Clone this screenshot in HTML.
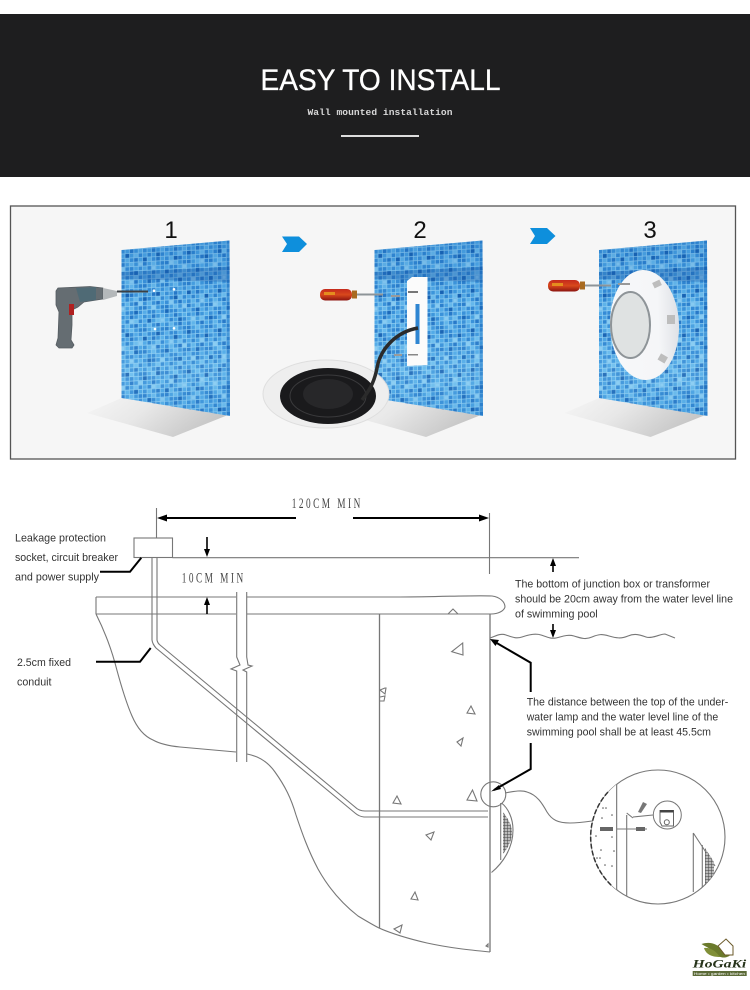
<!DOCTYPE html>
<html><head><meta charset="utf-8"><style>
html,body{margin:0;padding:0;background:#fff}
svg{display:block;filter:blur(.35px)}
.lb{font-family:"Liberation Sans",sans-serif;font-size:10.8px;fill:#333}
.num{font-family:"Liberation Sans",sans-serif;font-size:24px;fill:#111;text-anchor:middle}
.dim{font-family:"Liberation Serif",serif;font-size:15px;fill:#444}
.g{fill:none;stroke:#777;stroke-width:1.1}
.k{fill:none;stroke:#000;stroke-width:2}
</style></head><body>
<svg width="750" height="990" viewBox="0 0 750 990" xmlns="http://www.w3.org/2000/svg">
<defs>
<pattern id="mos" width="22" height="22" patternUnits="userSpaceOnUse" patternTransform="translate(121 250) skewY(-3)">
<rect width="22" height="22" fill="#9ad6f6"/>
<g>
<rect x="0" y="0" width="3.7" height="3.7" fill="#3a92da"/><rect x="4.4" y="0" width="3.7" height="3.7" fill="#4aa3e3"/><rect x="8.8" y="0" width="3.7" height="3.7" fill="#2678c8"/><rect x="13.2" y="0" width="3.7" height="3.7" fill="#3f98dd"/><rect x="17.6" y="0" width="3.7" height="3.7" fill="#5bb2ea"/>
<rect x="0" y="4.4" width="3.7" height="3.7" fill="#52abe8"/><rect x="4.4" y="4.4" width="3.7" height="3.7" fill="#2f86d2"/><rect x="8.8" y="4.4" width="3.7" height="3.7" fill="#4aa3e3"/><rect x="13.2" y="4.4" width="3.7" height="3.7" fill="#70c0ef"/><rect x="17.6" y="4.4" width="3.7" height="3.7" fill="#348bd6"/>
<rect x="0" y="8.8" width="3.7" height="3.7" fill="#3a92da"/><rect x="4.4" y="8.8" width="3.7" height="3.7" fill="#62b7eb"/><rect x="8.8" y="8.8" width="3.7" height="3.7" fill="#3a92da"/><rect x="13.2" y="8.8" width="3.7" height="3.7" fill="#2678c8"/><rect x="17.6" y="8.8" width="3.7" height="3.7" fill="#4ea8e6"/>
<rect x="0" y="13.2" width="3.7" height="3.7" fill="#2b7fcd"/><rect x="4.4" y="13.2" width="3.7" height="3.7" fill="#4aa3e3"/><rect x="8.8" y="13.2" width="3.7" height="3.7" fill="#6abcee"/><rect x="13.2" y="13.2" width="3.7" height="3.7" fill="#3f98dd"/><rect x="17.6" y="13.2" width="3.7" height="3.7" fill="#2f86d2"/>
<rect x="0" y="17.6" width="3.7" height="3.7" fill="#58afe9"/><rect x="4.4" y="17.6" width="3.7" height="3.7" fill="#348bd6"/><rect x="8.8" y="17.6" width="3.7" height="3.7" fill="#348bd6"/><rect x="13.2" y="17.6" width="3.7" height="3.7" fill="#52abe8"/><rect x="17.6" y="17.6" width="3.7" height="3.7" fill="#3a92da"/>
</g>
</pattern>
<pattern id="mos2" width="30.8" height="39.6" patternUnits="userSpaceOnUse" patternTransform="translate(121 250) skewY(-3)">
<rect x="4.4" y="4.4" width="3.7" height="3.7" fill="#165fb0"/><rect x="22" y="8.8" width="3.7" height="3.7" fill="#165fb0"/><rect x="13.2" y="22" width="3.7" height="3.7" fill="#1a67b8"/><rect x="26.4" y="30.8" width="3.7" height="3.7" fill="#1a67b8"/>
<rect x="8.8" y="30.8" width="3.7" height="3.7" fill="#8ed0f4"/><rect x="17.6" y="13.2" width="3.7" height="3.7" fill="#8ed0f4"/><rect x="0" y="17.6" width="3.7" height="3.7" fill="#8ed0f4"/>
</pattern>
<linearGradient id="ov" x1="0" y1="0" x2="0" y2="1">
<stop offset="0" stop-color="#1763b4" stop-opacity=".28"/>
<stop offset=".4" stop-color="#2f86d2" stop-opacity=".06"/>
<stop offset=".75" stop-color="#a6ddf8" stop-opacity=".16"/>
<stop offset="1" stop-color="#1c72c4" stop-opacity=".15"/>
</linearGradient>
<linearGradient id="fl" x1="0" y1="0" x2="1" y2=".35">
<stop offset="0" stop-color="#f6f6f6"/>
<stop offset=".45" stop-color="#e8e8e8"/>
<stop offset="1" stop-color="#c6c6c6"/>
</linearGradient>
<linearGradient id="lamp" x1="0" y1="0" x2="1" y2="0">
<stop offset="0" stop-color="#f7f8fa"/><stop offset=".7" stop-color="#f5f6f8"/><stop offset="1" stop-color="#dfe1e6"/>
</linearGradient>
<clipPath id="wc"><polygon points="121.5,250 229.5,240.5 230,416 121.5,398"/></clipPath>
<g id="wall">
<polygon points="121.5,398 228,415 173,437 87,413" fill="url(#fl)"/>
<g clip-path="url(#wc)">
<rect x="121" y="240" width="110" height="178" fill="url(#mos)"/>
<rect x="121" y="240" width="110" height="178" fill="url(#mos2)"/>
<rect x="121" y="240" width="110" height="178" fill="url(#ov)"/>
<polygon points="121,272 230,267 230,282 121,279" fill="#14509f" opacity=".3"/>
<rect x="226.5" y="240" width="4" height="178" fill="#1d6dbd" opacity=".35"/>
</g>
</g>
<clipPath id="zc"><circle cx="658" cy="837" r="67"/></clipPath>
<pattern id="hat" width="3" height="3" patternUnits="userSpaceOnUse"><rect width="3" height="3" fill="#bbb"/><path d="M0 0H3M0 0V3" stroke="#444" stroke-width="1"/></pattern>
<linearGradient id="hnd" x1="0" y1="0" x2="0" y2="1"><stop offset="0" stop-color="#c52a1c"/><stop offset=".5" stop-color="#d8481c"/><stop offset="1" stop-color="#8c1410"/></linearGradient>
<g id="sd">
<rect x="0" y="0" width="32" height="11.5" rx="5" fill="url(#hnd)"/>
<rect x="4" y="3" width="11" height="3" fill="#e8a020" opacity=".8"/>
<rect x="32" y="1.5" width="5" height="8" fill="#a86a20"/>
<rect x="37" y="4.5" width="26" height="2" fill="#8d9498"/>
</g>
</defs>

<rect x="0" y="14" width="750" height="163" fill="#1e1e1f"/>
<text x="260.5" y="90" font-family="'Liberation Sans',sans-serif" font-size="30" fill="#fff" stroke="#fff" stroke-width=".3" textLength="240" lengthAdjust="spacingAndGlyphs">EASY TO INSTALL</text>
<text x="307.5" y="115" font-family="'Liberation Mono',monospace" font-size="9.6" font-weight="bold" fill="#d8d8d8" textLength="145">Wall mounted installation</text>
<rect x="341" y="135" width="78" height="2" fill="#ddd"/>

<rect x="10.5" y="206" width="725" height="253" fill="#f6f6f6" stroke="#555" stroke-width="1.3"/>
<use href="#wall"/>
<use href="#wall" x="253"/>
<use href="#wall" x="477.5"/>
<text class="num" x="171" y="238">1</text>
<text class="num" x="420" y="238">2</text>
<text class="num" x="650" y="238">3</text>
<polygon points="282,236.5 299,236.5 307,244 299,252 282,252 287,244" fill="#0e8fdc"/>
<polygon points="530,228 547,228 555.5,236 547,244 530,244 535,236" fill="#0e8fdc"/>

<!-- drill -->
<path d="M58 288 L90 286.5 L103 288 L103 299 L84 302 L78 307 L72 310 L72 325 L71 340 L74 345 L72 348 L59 348 L56 345 L58 338 L59 312 L56 305 L56 291Z" fill="#656d72" stroke="#565d62" stroke-width=".8" stroke-linejoin="round"/>
<path d="M76 288 L96 287 L96 300 L80 302Z" fill="#4f6a75"/>
<path d="M103 288 L117 291 L117 296 L103 300Z" fill="#b4b8ba"/>
<rect x="69" y="304" width="5" height="11" fill="#b02020"/>
<rect x="117" y="290.5" width="31" height="2" fill="#3c4044"/>
<g fill="#fff"><circle cx="154" cy="290.7" r="1.3"/><circle cx="174" cy="289.3" r="1.3"/><circle cx="155" cy="329" r="1.3"/><circle cx="174" cy="328.3" r="1.3"/></g>

<!-- step 2 -->
<path d="M407 281 L412 277 L427.5 277 L427.5 365 L407 366Z" fill="#fbfbfb"/>
<rect x="415.5" y="304" width="4" height="40" fill="#2f86d2"/>
<rect x="408" y="291" width="10" height="2" fill="#777"/>
<rect x="408" y="354" width="10" height="1.5" fill="#888"/>
<use href="#sd" x="320" y="289"/>
<g fill="#9a9a9a"><rect x="391" y="295" width="9" height="2"/><rect x="394" y="354" width="8" height="2"/></g>
<ellipse cx="326" cy="394" rx="63" ry="34" fill="#eeeeee" stroke="#dedede"/>
<ellipse cx="328" cy="396" rx="48" ry="28" fill="#1a1a1c"/>
<ellipse cx="328" cy="396" rx="38" ry="21" fill="none" stroke="#3a3a3c"/>
<ellipse cx="328" cy="394" rx="25" ry="15" fill="#272729"/>
<path d="M418 328 C395 332 380 350 377 368 C374 384 368 392 362 400" fill="none" stroke="#2b2b2b" stroke-width="3.5"/>

<!-- step 3 -->
<ellipse cx="644.5" cy="325" rx="34.5" ry="55" transform="rotate(-2 644.5 325)" fill="url(#lamp)"/>
<ellipse cx="630.5" cy="325" rx="19.5" ry="33" fill="#dfe2e2" stroke="#8e9498" stroke-width="2"/>
<g fill="#bdbdbd"><rect x="653" y="281" width="8" height="6" transform="rotate(-25 657 284)"/><rect x="667" y="315" width="8" height="9"/><rect x="659" y="355" width="8" height="7" transform="rotate(30 663 358)"/></g>
<use href="#sd" x="548" y="280"/>
<rect x="618" y="283" width="12" height="2" fill="#999"/>

<!-- diagram -->
<g class="g">
<path d="M156.5 508V538"/>
<path d="M489.5 513V574"/>
<rect x="134" y="538" width="38.5" height="19.5"/>
<path d="M172.5 557.7H579"/>
<path d="M152 558V640Q152.5 644 156 648L355 813Q359 816.5 364 817H488"/>
<path d="M157 558V640Q157.5 643 160 645L355 807Q359 811 365 811H488"/>
<path d="M236.7 592V657L240 665L231 669L236.7 671V762"/>
<path d="M246.7 592V657L248 665L252 666L243 670L246.7 672V762"/>
<path d="M96 597V614"/>
<path d="M96 597H236M247 597H400C440 597 475 595 492 596C500 597 505 602 505 607C504 611 498 614 491 614H247M236 614H96"/>
<path d="M96 614C104 630 110 645 115 663C120 682 125 700 132 716C138 730 146 737 153 740C160 744 170 746 180 747L236 752"/>
<path d="M247 754C258 756 268 762 275 772C285 786 291 798 296 815C302 833 308 850 318 869C328 887 340 902 358 916C368 922 375 926 379 928C395 935 410 939 427 943C450 948 470 950 490 952"/>
<path d="M379.5 614V928" stroke-width="1.3"/>
<path d="M490 614V952" stroke-width="1.3"/>
<path d="M490 638C496 636 500 633 506 635S516 639 522 637S535 633 541 635S551 639 556 638S567 634 574 636S585 640 592 637S602 634 609 636S621 639 628 636S640 635 646 637S660 634 665 634L675 638"/>
<path d="M448 614L453 609L458 614"/>
<path d="M462.7 643L451.7 651.7L463 655Z"/>
<path d="M385 688L380 690L385 694L386 688Z M380 697L385 696L384 701L379 701"/>
<path d="M471 706L467 713L475 714Z"/>
<path d="M463 738L457 742L461 746Z"/>
<path d="M397 796L393 803L401 804Z"/>
<path d="M472.5 790L467 800L477 801Z"/>
<path d="M434 832L426 835L431 840Z"/>
<path d="M415 892L411 899L418 900Z"/>
<path d="M402 925L394 929L400 933Z"/>
<path d="M488 944L486 946L488 947Z"/>
<circle cx="493.3" cy="794.3" r="12.5"/>
<path d="M505 793C515 791 522 790 527 792C537 795 542 803 547 812C552 820 558 823 570 823C578 823 585 822 592 821"/>
<path d="M491.5 872.5C503 863 513 848 513 830C513 818 508 808 501.5 803"/>
<path d="M500.7 803V860" />
<circle cx="658" cy="837" r="67"/>
</g>
<path d="M503 812C509 820 512 826 512 832C512 840 508 848 503 854Z" fill="url(#hat)"/>

<g clip-path="url(#zc)">
<path d="M590 760H616.7V890H590Z" fill="#fff" stroke="#666" stroke-width="1"/>
<g class="g">
<path d="M626.7 815V900M626.7 813L633 818"/>
<path d="M693.3 833V892M693.3 833L715 866M702.3 845V890"/>
<path d="M617 829H647"/>
<path d="M653 815L633 817"/>
</g>
<path d="M705 848L714 862V878L705 886Z" fill="url(#hat)"/>
<g fill="#555"><circle cx="603" cy="808" r=".8"/><circle cx="606" cy="808" r=".8"/><circle cx="612" cy="815" r=".8"/><circle cx="602" cy="818" r=".8"/><circle cx="596" cy="836" r=".8"/><circle cx="612" cy="837" r=".8"/><circle cx="601" cy="850" r=".8"/><circle cx="614" cy="851" r=".8"/><circle cx="600" cy="858" r=".8"/><circle cx="605" cy="865" r=".8"/><circle cx="612" cy="866" r=".8"/><circle cx="597" cy="858" r=".8"/></g>
<rect x="600" y="827" width="13" height="4" fill="#666"/>
<rect x="636" y="827" width="9" height="4" fill="#666"/>
<path d="M638 812L643 802L647 804L641 813Z" fill="#777"/>
<circle cx="667.3" cy="815" r="14" fill="#fff" stroke="#777"/>
<path d="M660 810.5H673.5V826H662L660 822Z" fill="#fff" stroke="#666"/>
<rect x="660" y="810" width="13.5" height="2.5" fill="#444"/>
<circle cx="666.8" cy="822.3" r="2.5" fill="#fff" stroke="#666"/>
</g>
<path d="M608 792A67 67 0 0 0 612 886" fill="none" stroke="#333" stroke-width="1.5" stroke-dasharray="5 2"/>

<!-- black leaders/arrows -->
<path class="k" d="M163 518H296M353 518H482"/>
<polygon points="157,518 167,514.5 167,521.5" fill="#000"/>
<polygon points="489,518 479,514.5 479,521.5" fill="#000"/>
<path class="k" d="M141.3 557.7L130 571.7H100"/>
<path class="k" d="M150.7 648L140 661.7H96"/>
<path d="M207 537V552M207 614V601M553 572V561M553 624V634" stroke="#000" stroke-width="1.6" fill="none"/>
<polygon points="207,557 204,549 210,549" fill="#000"/>
<polygon points="207,597 204,605 210,605" fill="#000"/>
<polygon points="553,558 550,566 556,566" fill="#000"/>
<polygon points="553,638 550,630 556,630" fill="#000"/>
<path class="k" d="M530.7 692V662.7L495 642"/>
<polygon points="490,639 499,640 495.5,646" fill="#000"/>
<path class="k" d="M530.7 743V769L494 790"/>
<polygon points="491,791.5 499,785 501,789" fill="#000"/>

<text class="lb" x="15" y="541.7" textLength="91" lengthAdjust="spacingAndGlyphs">Leakage protection</text>
<text class="lb" x="15" y="561" textLength="103" lengthAdjust="spacingAndGlyphs">socket, circuit breaker</text>
<text class="lb" x="15" y="580.7" textLength="84" lengthAdjust="spacingAndGlyphs">and power supply</text>
<text class="lb" x="17" y="666" textLength="54" lengthAdjust="spacingAndGlyphs">2.5cm fixed</text>
<text class="lb" x="17" y="685.7" textLength="34.5" lengthAdjust="spacingAndGlyphs">conduit</text>
<text class="lb" x="515" y="587.3" textLength="195" lengthAdjust="spacingAndGlyphs">The bottom of junction box or transformer</text>
<text class="lb" x="515" y="602.3" textLength="218" lengthAdjust="spacingAndGlyphs">should be 20cm away from the water level line</text>
<text class="lb" x="515" y="617.3" textLength="82.7" lengthAdjust="spacingAndGlyphs">of swimming pool</text>
<text class="lb" x="526.7" y="705.7" textLength="201.6" lengthAdjust="spacingAndGlyphs">The distance between the top of the under-</text>
<text class="lb" x="526.7" y="720.7" textLength="191.6" lengthAdjust="spacingAndGlyphs">water lamp and the water level line of the</text>
<text class="lb" x="526.7" y="735.7" textLength="184.3" lengthAdjust="spacingAndGlyphs">swimming pool shall be at least 45.5cm</text>
<text class="dim" transform="translate(291.7 508) scale(.62 1)" letter-spacing="4">120CM MIN</text>
<text class="dim" transform="translate(181.7 582.7) scale(.62 1)" letter-spacing="4">10CM MIN</text>

<!-- logo -->
<path d="M701.5 944C710 941 718 944 722 950C726 955 731 957 733 952C729 959 720 959 716 954C712 949 706 947 701.5 944Z" fill="#6b7a2c"/>
<path d="M704 948C710 947 716 951 720 957C713 957 706 955 704 948Z" fill="#808f38"/>
<path d="M718 946L726 939L733 946L733 955L725 955Z" fill="#fff" stroke="#6b5a2a" stroke-width="1"/>
<text x="692.7" y="967.3" font-family="'Liberation Serif',serif" font-weight="bold" font-style="italic" font-size="12" fill="#26331a" textLength="53.5" lengthAdjust="spacingAndGlyphs">HoGaKi</text>
<rect x="692.7" y="971" width="54" height="5" fill="#5c6b38"/>
<text x="694" y="975.2" font-family="'Liberation Sans',sans-serif" font-size="4" fill="#fff" textLength="51" lengthAdjust="spacingAndGlyphs">Home • garden • kitchen</text>
</svg>
</body></html>
